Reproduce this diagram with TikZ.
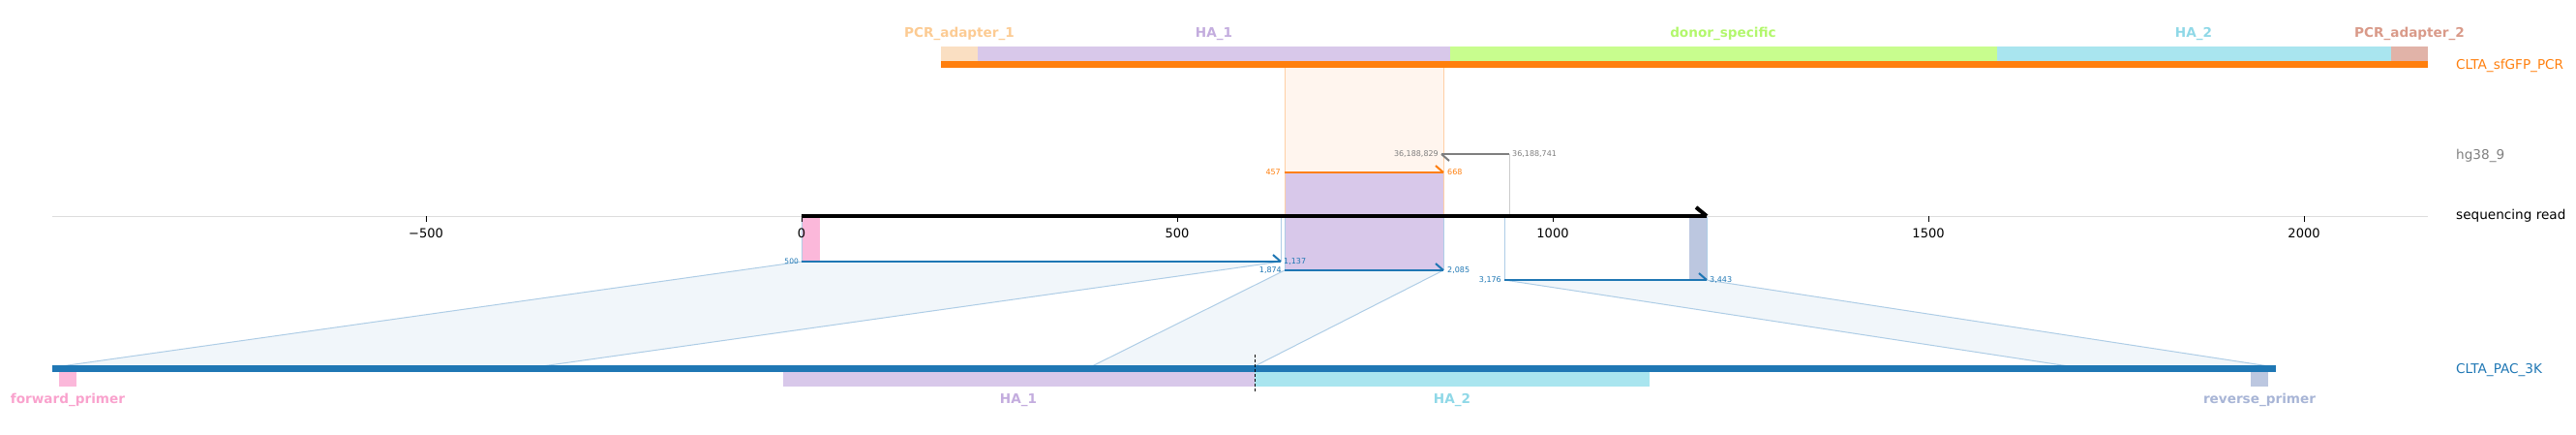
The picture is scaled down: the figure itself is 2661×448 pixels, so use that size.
\documentclass[tikz,border=0pt]{standalone}
\usepackage{fontspec}
\setmainfont{DejaVu Sans}
\definecolor{cOrange}{HTML}{FF7F0E}
\definecolor{cBlue}{HTML}{1F77B4}
\definecolor{cGray}{HTML}{7F7F7F}
\definecolor{fPcrA}{HTML}{FADFC2}
\definecolor{lPcrA}{HTML}{FCCB93}
\definecolor{fHAone}{HTML}{D8C8EA}
\definecolor{lHAone}{HTML}{C3ACDE}
\definecolor{fDonor}{HTML}{C8FD8E}
\definecolor{lDonor}{HTML}{B2F76C}
\definecolor{fHAtwo}{HTML}{A9E5EF}
\definecolor{lHAtwo}{HTML}{8FD8E7}
\definecolor{fPcrB}{HTML}{E1B3A8}
\definecolor{lPcrB}{HTML}{D99A89}
\definecolor{fFwd}{HTML}{FBB8DA}
\definecolor{lFwd}{HTML}{F9A2CD}
\definecolor{fRev}{HTML}{BCC7E0}
\definecolor{lRev}{HTML}{A8B5D6}
\definecolor{trapFill}{HTML}{F1F6FA}
\definecolor{trapEdge}{HTML}{AECDE6}
\definecolor{orFill}{HTML}{FFF5EE}
\definecolor{orEdge}{HTML}{FFCFA5}
\definecolor{grEdge}{HTML}{CCCCCC}
\definecolor{axGray}{HTML}{DDDDDD}
\begin{document}
\begin{tikzpicture}[x=1pt,y=-1pt,
  flab/.style={font=\fontsize{13.6}{16}\selectfont\bfseries, anchor=base, inner sep=0pt},
  rlab/.style={font=\fontsize{13.6}{16}\selectfont, anchor=base west, inner sep=0pt},
  tlab/.style={font=\fontsize{13}{15}\selectfont, anchor=base, inner sep=0pt},
  slab/.style={font=\fontsize{8}{10}\selectfont, inner sep=0pt},
  seg/.style={line width=2pt},
  trapside/.style={draw=trapEdge, line width=1pt},
  vguide/.style={line width=0.8pt},
]
\useasboundingbox (0,0) rectangle (2661,448);
% ---------- key coordinates ----------
\coordinate (rd0) at (828,223);
\coordinate (rd1) at (1763,223);
\coordinate (b1s) at (828,270);  \coordinate (b1e) at (1323,270);
\coordinate (b2s) at (1327,279); \coordinate (b2e) at (1491,279);
\coordinate (b3s) at (1554,289); \coordinate (b3e) at (1763,289);
\coordinate (os) at (1327,178);  \coordinate (oe) at (1491,178);
\coordinate (gs) at (1559,159);  \coordinate (ge) at (1489,159);
\coordinate (r1s) at (63,378);   \coordinate (r1e) at (560,378);
\coordinate (r2s) at (1128,378); \coordinate (r2e) at (1296,378);
\coordinate (r3s) at (2137,378); \coordinate (r3e) at (2344,378);
% ---------- trapezoids ----------
\fill[trapFill] (b1s) -- (b1e) -- (r1e) -- (r1s) -- cycle;
\fill[trapFill] (b2s) -- (b2e) -- (r2e) -- (r2s) -- cycle;
\fill[trapFill] (b3s) -- (b3e) -- (r3e) -- (r3s) -- cycle;
\draw[trapside] (b1s) -- (r1s);  \draw[trapside] (b1e) -- (r1e);
\draw[trapside] (b2s) -- (r2s);  \draw[trapside] (b2e) -- (r2e);
\draw[trapside] (b3s) -- (r3s);  \draw[trapside] (b3e) -- (r3e);
% ---------- pale orange projection ----------
\fill[orFill] (1327,70) rectangle (1491,178);
% ---------- feature boxes on read ----------
\fill[fHAone] (1327,178) rectangle (1491,279);
\fill[fFwd] (828,223) rectangle (847,270);
\fill[fRev] (1745,223) rectangle (1763,289);
% ---------- guide lines ----------
\draw[vguide, orEdge] (1327,70) -- (1327,223);
\draw[vguide, orEdge] (1491,70) -- (1491,223);
\draw[vguide, grEdge] (gs) -- (1559,223);
\draw[vguide, trapEdge] (828,223) -- (b1s);
\draw[vguide, trapEdge] (1323,223) -- (b1e);
\draw[vguide, trapEdge] (1327,223) -- (b2s);
\draw[vguide, trapEdge] (1491,223) -- (b2e);
\draw[vguide, trapEdge] (1554,223) -- (b3s);
\draw[vguide, trapEdge] (1763,223) -- (b3e);
% ---------- top reference CLTA_sfGFP_PCR ----------
\fill[fPcrA] (972,48) rectangle (1010,63);
\fill[fHAone] (1010,48) rectangle (1498,63);
\fill[fDonor] (1498,48) rectangle (2063,63);
\fill[fHAtwo] (2063,48) rectangle (2470,63);
\fill[fPcrB] (2470,48) rectangle (2508,63);
\fill[cOrange] (972,63) rectangle (2508,70);
\node[flab, text=lPcrA] (tPA1) at (991,38.3) {PCR\_adapter\_1};
\node[flab, text=lHAone] (tHA1) at (1254,38.3) {HA\_1};
\node[flab, text=lDonor] (tDon) at (1780,38.3) {donor\_specific};
\node[flab, text=lHAtwo] (tHA2) at (2266,38.3) {HA\_2};
\node[flab, text=lPcrB] (tPA2) at (2489,38.3) {PCR\_adapter\_2};
% ---------- axis ----------
\draw[axGray, line width=1pt] (54,223) -- (2508,223);
\foreach \xx/\lab/\nm in {440/−500/ta, 828/0/tb, 1216/500/tc, 1604/1000/td, 1992/1500/te, 2380/2000/tf}{
  \draw[black, line width=0.9pt] (\xx,223) -- (\xx,229);
  \node[tlab] (\nm) at (\xx,245) {\lab};
}
% ---------- hg38 segment ----------
\draw[cGray, seg] (ge) -- (gs);
\draw[cGray, seg] (ge) -- ++(8,7);
% ---------- orange segment ----------
\draw[cOrange, seg] (os) -- (oe);
\draw[cOrange, seg] (oe) -- ++(-8,-7);
% ---------- blue segments ----------
\draw[cBlue, seg] (b1s) -- (b1e);
\draw[cBlue, seg] (b1e) -- ++(-8,-7);
\draw[cBlue, seg] (b2s) -- (b2e);
\draw[cBlue, seg] (b2e) -- ++(-8,-7);
\draw[cBlue, seg] (b3s) -- (b3e);
\draw[cBlue, seg] (b3e) -- ++(-8,-7);
% ---------- read arrow ----------
\draw[black, line width=4pt] (rd0) -- (rd1);
\draw[black, line width=4pt] (rd1) -- ++(-11,-9);
% ---------- bottom reference CLTA_PAC_3K ----------
\fill[cBlue] (54,377) rectangle (2351,384);
\fill[fFwd] (61,384) rectangle (79,399);
\fill[fHAone] (809,384) rectangle (1296,399);
\fill[fHAtwo] (1296,384) rectangle (1704,399);
\fill[fRev] (2325,384) rectangle (2343,399);
\draw[black, line width=1pt, dash pattern=on 3pt off 2pt] (1296,366) -- (1296,405);
\node[flab, text=lFwd] (bFwd) at (70,416.7) {forward\_primer};
\node[flab, text=lHAone] (bHA1) at (1052,416.7) {HA\_1};
\node[flab, text=lHAtwo] (bHA2) at (1500,416.7) {HA\_2};
\node[flab, text=lRev] (bRev) at (2334,416.7) {reverse\_primer};
% ---------- small coordinate labels ----------
\node[slab, anchor=base east, text=cOrange] (l457) at (1323,180.5) {457};
\node[slab, anchor=base west, text=cOrange] (l668) at (1495,180.5) {668};
\node[slab, anchor=base east, text=cGray] (l829) at (1486,161.5) {36,188,829};
\node[slab, anchor=base west, text=cGray] (l741) at (1562,161.5) {36,188,741};
\node[slab, anchor=base east, text=cBlue, font=\fontsize{7.5}{9}\selectfont] (l500) at (825,272.7) {500};
\node[slab, anchor=base west, text=cBlue] (l1137) at (1326,272.3) {1,137};
\node[slab, anchor=base east, text=cBlue] (l1874) at (1324,281.7) {1,874};
\node[slab, anchor=base west, text=cBlue] (l2085) at (1495,281.7) {2,085};
\node[slab, anchor=base east, text=cBlue] (l3176) at (1551,291.7) {3,176};
\node[slab, anchor=base west, text=cBlue] (l3443) at (1766,291.7) {3,443};
% ---------- track names ----------
\node[rlab, text=cOrange] (nTop) at (2537,71) {CLTA\_sfGFP\_PCR};
\node[rlab, text=cGray] (nHg) at (2537,164) {hg38\_9};
\node[rlab, text=black] (nRead) at (2537,226.5) {sequencing read};
\node[rlab, text=cBlue] (nBot) at (2537,385) {CLTA\_PAC\_3K};
\end{tikzpicture}
\end{document}
